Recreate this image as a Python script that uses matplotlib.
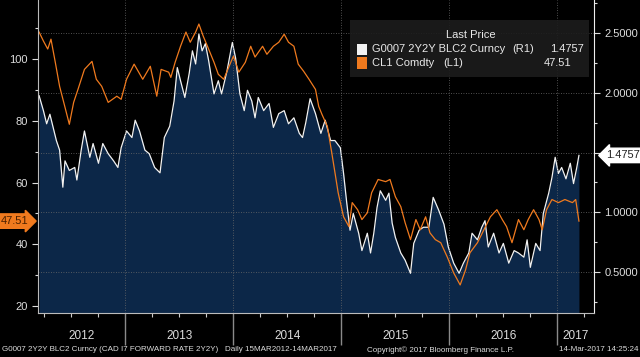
import matplotlib
matplotlib.use('Agg')
import matplotlib.pyplot as plt
import matplotlib.transforms as mtransforms
from matplotlib.patches import Rectangle
from matplotlib.ticker import MultipleLocator, FixedLocator, FuncFormatter

plt.rcParams['font.family'] = ['Liberation Sans', 'DejaVu Sans']

# CL1 Comdty (left axis), dates as decimal years
oil_t = [2012.20, 2012.24, 2012.28, 2012.31, 2012.35, 2012.39, 2012.44, 2012.48, 2012.52, 2012.56,
         2012.62, 2012.69, 2012.73, 2012.78, 2012.84, 2012.92, 2012.96, 2013.01, 2013.08, 2013.16,
         2013.23, 2013.29, 2013.33, 2013.40, 2013.42, 2013.46, 2013.51, 2013.56, 2013.60, 2013.65,
         2013.68, 2013.72, 2013.77, 2013.82, 2013.86, 2013.91, 2013.96, 2014.00, 2014.05, 2014.11,
         2014.16, 2014.20, 2014.27, 2014.31, 2014.37, 2014.42, 2014.47, 2014.51, 2014.56, 2014.60,
         2014.65, 2014.70, 2014.76, 2014.79, 2014.82, 2014.87, 2014.91, 2014.94, 2014.97, 2015.02,
         2015.07, 2015.10, 2015.15, 2015.19, 2015.24, 2015.28, 2015.34, 2015.41, 2015.45, 2015.50,
         2015.55, 2015.59, 2015.64, 2015.69, 2015.73, 2015.78, 2015.82, 2015.87, 2015.92, 2015.98,
         2016.04, 2016.10, 2016.15, 2016.19, 2016.26, 2016.32, 2016.38, 2016.44, 2016.49, 2016.53,
         2016.58, 2016.64, 2016.69, 2016.73, 2016.78, 2016.83, 2016.86, 2016.90, 2016.95, 2017.01,
         2017.07, 2017.14, 2017.17, 2017.20]
oil_v = [108.8, 105.9, 103.3, 106.5, 99.0, 91.2, 84.4, 78.9, 86.0, 90.2,
         96.7, 99.3, 93.5, 91.2, 86.0, 88.0, 87.0, 93.5, 98.4, 93.5,
         97.7, 88.0, 96.7, 95.8, 94.1, 99.0, 104.2, 108.8, 105.5, 108.8,
         111.4, 107.5, 103.3, 99.0, 95.1, 93.5, 97.7, 101.0, 95.8, 99.0,
         104.2, 100.7, 104.2, 101.6, 104.2, 105.5, 108.1, 105.5, 104.2, 98.4,
         96.1, 93.5, 90.2, 84.7, 82.1, 78.2, 69.8, 63.3, 56.7, 48.9,
         45.7, 53.5, 51.2, 48.0, 50.2, 56.7, 61.0, 60.3, 61.0, 55.4,
         52.2, 47.0, 41.5, 48.0, 44.7, 48.9, 43.7, 41.5, 40.5, 35.9,
         30.7, 26.8, 31.7, 37.2, 40.5, 44.7, 48.9, 51.2, 48.0, 45.7,
         40.5, 48.0, 44.7, 48.0, 51.2, 48.0, 44.7, 51.2, 54.5, 53.5,
         54.5, 53.5, 54.5, 47.51]

# G0007 2Y2Y BLC2 Curncy (right axis)
rate_t = [2012.20, 2012.24, 2012.27, 2012.30, 2012.33, 2012.36, 2012.39, 2012.42, 2012.44, 2012.48,
          2012.53, 2012.55, 2012.59, 2012.62, 2012.67, 2012.70, 2012.75, 2012.79, 2012.84, 2012.89,
          2012.93, 2012.96, 2013.01, 2013.06, 2013.09, 2013.13, 2013.18, 2013.22, 2013.27, 2013.32,
          2013.36, 2013.41, 2013.45, 2013.48, 2013.51, 2013.55, 2013.59, 2013.62, 2013.65, 2013.68,
          2013.71, 2013.74, 2013.77, 2013.82, 2013.86, 2013.89, 2013.94, 2013.99, 2014.02, 2014.06,
          2014.10, 2014.13, 2014.17, 2014.20, 2014.23, 2014.28, 2014.33, 2014.37, 2014.42, 2014.47,
          2014.51, 2014.56, 2014.61, 2014.64, 2014.67, 2014.71, 2014.76, 2014.81, 2014.85, 2014.90,
          2014.94, 2014.99, 2015.02, 2015.05, 2015.08, 2015.11, 2015.16, 2015.19, 2015.24, 2015.27,
          2015.30, 2015.33, 2015.36, 2015.41, 2015.44, 2015.47, 2015.50, 2015.55, 2015.59, 2015.64,
          2015.67, 2015.72, 2015.76, 2015.81, 2015.85, 2015.90, 2015.95, 2015.99, 2016.04, 2016.09,
          2016.13, 2016.18, 2016.21, 2016.26, 2016.30, 2016.33, 2016.36, 2016.41, 2016.46, 2016.50,
          2016.55, 2016.60, 2016.64, 2016.69, 2016.72, 2016.75, 2016.80, 2016.84, 2016.87, 2016.92,
          2016.95, 2016.98, 2017.01, 2017.04, 2017.08, 2017.12, 2017.15, 2017.18, 2017.20]
rate_v = [1.975, 1.85, 1.74, 1.82, 1.71, 1.60, 1.52, 1.21, 1.43, 1.35,
          1.375, 1.27, 1.52, 1.68, 1.46, 1.575, 1.41, 1.575, 1.49, 1.43,
          1.375, 1.54, 1.68, 1.625, 1.77, 1.68, 1.52, 1.49, 1.375, 1.33,
          1.625, 1.72, 1.93, 2.21, 2.10, 1.96, 2.16, 2.35, 2.24, 2.49,
          2.35, 2.41, 2.27, 1.99, 2.10, 1.99, 2.18, 2.42, 2.29, 1.99,
          1.85, 2.02, 1.93, 1.79, 1.96, 1.85, 1.91, 1.71, 1.825, 1.85,
          1.74, 1.79, 1.66, 1.625, 1.75, 1.95, 1.825, 1.66, 1.77, 1.60,
          1.60, 1.54, 1.325, 1.075, 0.85, 0.99, 0.825, 0.68, 0.825, 0.66,
          0.825, 1.04, 1.18, 1.10, 1.16, 0.91, 0.79, 0.66, 0.60, 0.49,
          0.74, 0.85, 0.875, 0.875, 1.125, 1.02, 0.90, 0.71, 0.575, 0.49,
          0.575, 0.66, 0.825, 0.77, 0.875, 0.93, 0.71, 0.825, 0.66, 0.74,
          0.575, 0.68, 0.66, 0.625, 0.77, 0.54, 0.74, 0.68, 0.99, 1.16,
          1.29, 1.46, 1.325, 1.375, 1.28, 1.41, 1.24, 1.375, 1.4757]

years = [2012, 2013, 2014, 2015, 2016, 2017]
oil_last = 47.51
rate_last = 1.4757

oil_color = '#f07a1e'
rate_color = '#f2f2f2'
fill_color = '#0c2748'
grid_color = '#6a6a6a'

fig = plt.figure(figsize=(6.4, 3.57), dpi=100, facecolor='black')
ax = fig.add_axes([0.0594, 0.1232, 0.8688, 0.8768])
ax2 = ax.twinx()
# left axis (oil) drawn on top of the filled right-axis series
ax.set_zorder(ax2.get_zorder() + 1)
ax.patch.set_visible(False)
ax2.set_facecolor('#111115')

x0, x1 = 2012.19, 2017.34
ax.set_xlim(x0, x1)
ax.set_ylim(17.7, 119.2)
ax2.set_ylim(0.158, 2.775)

# right axis series with area fill
ax2.fill_between(rate_t, rate_v, 0, color=fill_color, lw=0)
ax2.plot(rate_t, rate_v, color=rate_color, lw=0.9)
# left axis series
ax.plot(oil_t, oil_v, color=oil_color, lw=0.9)

# ticks
ax.yaxis.set_major_locator(MultipleLocator(20))
ax.yaxis.set_minor_locator(MultipleLocator(10))
ax2.yaxis.set_major_locator(MultipleLocator(0.5))
ax2.yaxis.set_minor_locator(MultipleLocator(0.25))
# the last-value tag hides the label next to it
ax2.yaxis.set_major_formatter(FuncFormatter(
    lambda v, p: '' if abs(v - rate_last) < 0.1 else f'{v:.4f}'))
ax.xaxis.set_major_locator(FixedLocator(years[1:]))
quarters = [y + q for y in years for q in (0.25, 0.5, 0.75)]
ax.xaxis.set_minor_locator(FixedLocator(quarters))

ax.tick_params(axis='y', which='major', colors='#dddddd', labelsize=8, length=4, width=0.8)
ax.tick_params(axis='y', which='minor', colors='#dddddd', length=2.5, width=0.8)
ax2.tick_params(axis='y', which='major', colors='#dddddd', labelsize=8, length=4, width=0.8)
ax2.tick_params(axis='y', which='minor', colors='#dddddd', length=2.5, width=0.8)
ax.tick_params(axis='x', which='major', length=23, width=1.0, color='#8a8a8a', labelbottom=False)
ax.tick_params(axis='x', which='minor', length=3, width=0.8, color='#cccccc')

ax.grid(axis='x', which='major', color=grid_color, linestyle=(0, (1, 2)), lw=0.6)
ax2.grid(axis='y', which='major', color=grid_color, linestyle=(0, (1, 2)), lw=0.6)

for s in ax2.spines.values():
    s.set_visible(False)
ax.spines['top'].set_visible(False)
ax.spines['left'].set_color('#bbbbbb')
ax.spines['bottom'].set_color('#bbbbbb')
ax.spines['right'].set_color('#eeeeee')

# year labels centred in each visible year
trans = mtransforms.blended_transform_factory(ax.transData, ax.transAxes)
for y in years:
    xc = (max(y, x0) + min(y + 1, x1)) / 2
    ax.text(xc, -0.075, str(y), transform=trans, ha='center', va='center',
            color='#dddddd', fontsize=8.5)

# legend box
ax.add_patch(Rectangle((0.561, 0.754), 0.43, 0.182, transform=ax.transAxes,
                       fc='#1c1c1c', ec='none', alpha=0.9, zorder=5))
tk = dict(transform=ax.transAxes, fontsize=8, color='#e8e8e8', va='center', zorder=6)
ax.text(0.779, 0.888, 'Last Price', ha='center', **tk)
ax.add_patch(Rectangle((0.574, 0.824), 0.018, 0.036, transform=ax.transAxes,
                       fc=rate_color, ec='none', zorder=6))
ax.add_patch(Rectangle((0.574, 0.781), 0.018, 0.036, transform=ax.transAxes,
                       fc=oil_color, ec='none', zorder=6))
ax.text(0.601, 0.842, 'G0007 2Y2Y BLC2 Curncy', ha='left', **tk)
ax.text(0.853, 0.842, '(R1)', ha='left', **tk)
ax.text(0.982, 0.842, f'{rate_last:.4f}', ha='right', **tk)
ax.text(0.601, 0.798, 'CL1 Comdty', ha='left', **tk)
ax.text(0.728, 0.798, '(L1)', ha='left', **tk)
ax.text(0.960, 0.798, f'{oil_last:.2f}', ha='right', **tk)

# last value tags on the axes
ax2.annotate(f'{rate_last:.4f}', xy=(1, rate_last), xycoords=('axes fraction', 'data'),
             xytext=(9, 0), textcoords='offset points', ha='left', va='center',
             fontsize=8, color='#222222', annotation_clip=False,
             bbox=dict(boxstyle='larrow,pad=0.2', fc='white', ec='white'))
ax.annotate(f'{oil_last:.2f}', xy=(0, oil_last), xycoords=('axes fraction', 'data'),
            xytext=(-7, 0), textcoords='offset points', ha='right', va='center',
            fontsize=8, color='#4a2000', annotation_clip=False,
            bbox=dict(boxstyle='rarrow,pad=0.2', fc=oil_color, ec=oil_color))

# footer
ft = dict(fontsize=5.8, color='#dddddd', va='center')
fig.text(0.003, 0.02, 'G0007 2Y2Y BLC2 Curncy (CAD I7 FORWARD RATE 2Y2Y)', ha='left', **ft)
fig.text(0.352, 0.02, 'Daily 15MAR2012-14MAR2017', ha='left', **ft)
fig.text(0.573, 0.02, 'Copyright\u00a9 2017 Bloomberg Finance L.P.', ha='left', **ft)
fig.text(0.997, 0.02, '14-Mar-2017 14:25:24', ha='right', **ft)

fig.savefig('out.png', dpi=100, facecolor='black')
